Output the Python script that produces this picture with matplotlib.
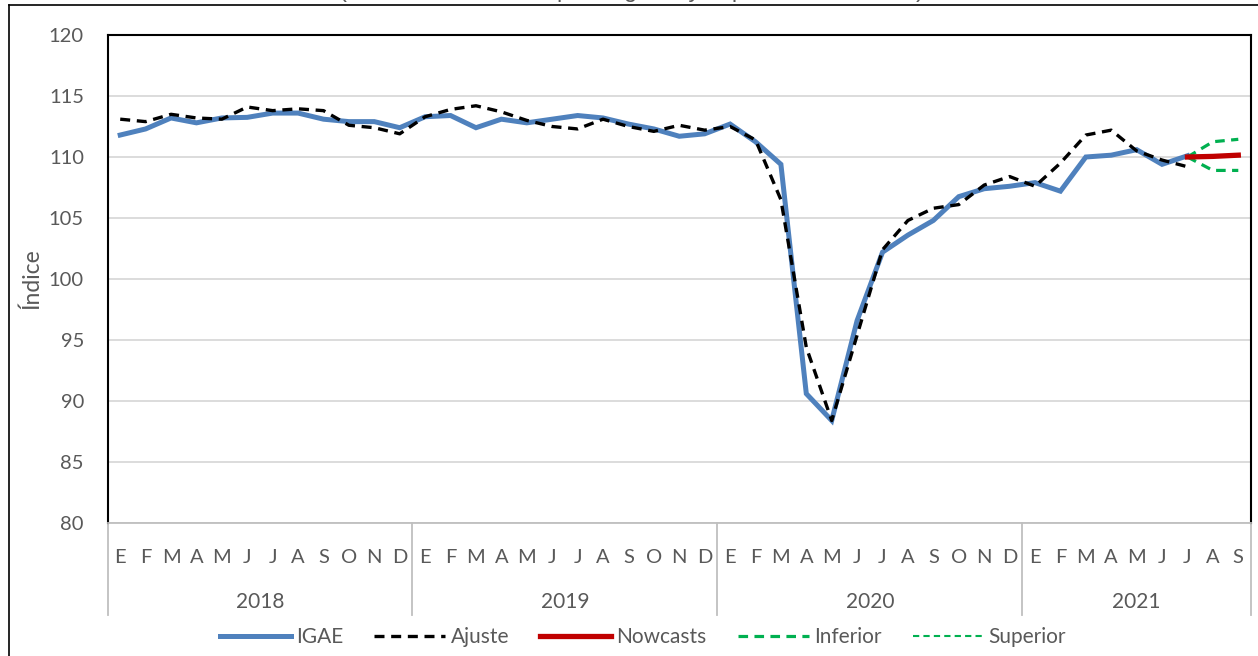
import matplotlib
matplotlib.use("Agg")
import matplotlib.pyplot as plt
from matplotlib.lines import Line2D
from matplotlib.transforms import blended_transform_factory
import numpy as np

plt.rcParams['font.family'] = ['Lato', 'DejaVu Sans']

months = ["E", "F", "M", "A", "M", "J", "J", "A", "S", "O", "N", "D"]
years = ["2018", "2019", "2020", "2021"]
months_per_year = [12, 12, 12, 9]

igae = [111.8, 112.3, 113.2, 112.8, 113.2, 113.25, 113.6, 113.6, 113.1, 112.9, 112.9, 112.4,
        113.3, 113.4, 112.4, 113.1, 112.8, 113.1, 113.4, 113.2, 112.7, 112.3, 111.7, 111.9,
        112.7, 111.25, 109.4, 90.6, 88.4, 96.6, 102.2, 103.6, 104.8, 106.75, 107.4, 107.6,
        107.9, 107.2, 110.0, 110.15, 110.6, 109.4, 110.1]
ajuste = [113.1, 112.9, 113.5, 113.2, 113.1, 114.1, 113.8, 113.95, 113.8, 112.6, 112.4, 111.9,
          113.3, 113.9, 114.2, 113.7, 113.0, 112.5, 112.3, 113.1, 112.5, 112.1, 112.6, 112.2,
          112.5, 111.4, 106.5, 94.4, 88.4, 95.4, 102.4, 104.8, 105.8, 106.1, 107.7, 108.4,
          107.6, 109.5, 111.8, 112.2, 110.5, 109.75, 109.2]
nowcasts = [110.0, 110.05, 110.15]
inferior = [110.0, 108.9, 108.9]
superior = [110.0, 111.25, 111.45]

W, H = 1258, 656
fig = plt.figure(figsize=(W / 100, H / 100), dpi=100)

x_left, x_right = 107.5, 1251
y_top, y_bot = 35, 523
ax = fig.add_axes([x_left / W, (H - y_bot) / H, (x_right - x_left) / W, (y_bot - y_top) / H])

n = sum(months_per_year)
x_all = np.arange(n)
x_igae = x_all[:len(igae)]
x_aj = x_all[:len(ajuste)]
x_fc = x_all[len(igae) - 1:len(igae) - 1 + len(nowcasts)]

blue = "#4F81BD"
red = "#C00000"
green = "#00B050"

ax.plot(x_igae, igae, color=blue, lw=3.6, solid_joinstyle='miter', zorder=3)
ax.plot(x_aj, ajuste, color="black", lw=2.4, dashes=(3, 2), zorder=4)
ax.plot(x_fc, inferior, color=green, lw=2.3, dashes=(3, 2), zorder=5)
ax.plot(x_fc, superior, color=green, lw=2.3, dashes=(3, 2), zorder=5)
ax.plot(x_fc, nowcasts, color=red, lw=3.8, zorder=6)

ax.set_xlim(-0.5, n - 0.5)
ax.set_ylim(80, 120)
ax.set_yticks(np.arange(80, 121, 5))
ax.grid(axis='y', color="#D9D9D9", lw=1.3, zorder=0)
ax.set_axisbelow(True)

txt_color = "#595959"
ax.tick_params(axis='y', length=0, pad=17, labelsize=14.5, labelcolor=txt_color)

# month labels
month_labels = []
for cnt in months_per_year:
    month_labels += months[:cnt]
ax.set_xticks(x_all)
ax.set_xticklabels(month_labels, fontsize=14.5, color=txt_color)
ax.tick_params(axis='x', length=0, pad=19)

for side in ['left', 'top', 'right']:
    ax.spines[side].set_color('black')
    ax.spines[side].set_linewidth(1.5)
ax.spines['bottom'].set_color("#BFBFBF")
ax.spines['bottom'].set_linewidth(1.3)

# year labels and separators
trans = blended_transform_factory(ax.transData, ax.transAxes)
sep_depth = -(615 - y_bot) / (y_bot - y_top)
year_y = -(602 - y_bot) / (y_bot - y_top)
start = 0
bounds = [-0.5]
for yr, cnt in zip(years, months_per_year):
    center = start + (cnt - 1) / 2
    ax.text(center, year_y, yr, transform=trans, ha='center', va='center', fontsize=15, color=txt_color)
    start += cnt
    bounds.append(start - 0.5)
for b in bounds:
    ax.plot([b, b], [0, sep_depth], transform=trans, color="#BFBFBF", lw=1.3, clip_on=False)

ax.set_ylabel("Índice", fontsize=16.5, color=txt_color)
ax.yaxis.set_label_coords(-(x_left - 42) / (x_right - x_left), 0.5)

# legend
handles = [
    Line2D([], [], color=blue, lw=3.6),
    Line2D([], [], color="black", lw=2.4, dashes=(3, 2)),
    Line2D([], [], color=red, lw=3.8),
    Line2D([], [], color=green, lw=2.3, dashes=(3, 2)),
    Line2D([], [], color=green, lw=1.5, dashes=(3, 2)),
]
labels = ["IGAE", "Ajuste", "Nowcasts", "Inferior", "Superior"]
leg = fig.legend(handles, labels, loc='center', bbox_to_anchor=(643 / W, (H - 637) / H),
                 ncol=5, frameon=False, fontsize=15, handlelength=3.4, handletextpad=0.25,
                 columnspacing=1.5)
for t in leg.get_texts():
    t.set_color(txt_color)

# outer chart border (extends past right and bottom edges)
fig.add_artist(Line2D([9 / W, 9 / W], [0, 1 - 5 / H], color='black', lw=1.2, transform=fig.transFigure))
fig.add_artist(Line2D([9 / W, 1], [1 - 5 / H, 1 - 5 / H], color='black', lw=1.2, transform=fig.transFigure))

# title, mostly cut off at the top of the image
fig.text(632 / W, 1 + 3 / H, "(Nowcasts del IGAE para agosto y septiembre de 2021)",
         ha='center', va='baseline', fontsize=17, color=txt_color, family=['Liberation Sans'])

fig.savefig("out.png", dpi=100)
